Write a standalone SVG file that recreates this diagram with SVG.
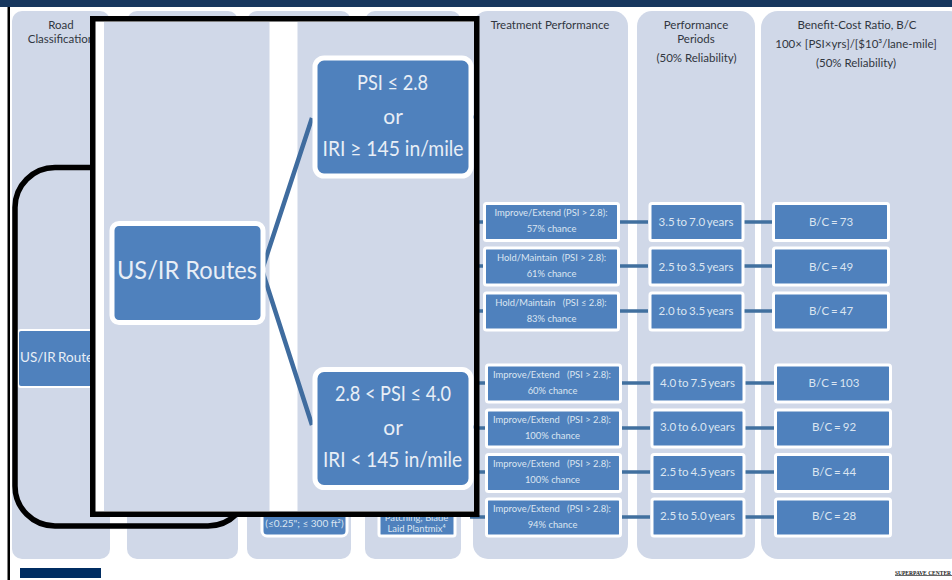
<svg xmlns="http://www.w3.org/2000/svg" width="952" height="580" viewBox="0 0 952 580">
<style>
text{font-family:Lato,"Noto Sans",sans-serif;text-anchor:middle;white-space:pre}
.col{fill:#d0d8e8}
.n{fill:#4f81bd;stroke:#fff;stroke-width:3}
.N{fill:#4f81bd;stroke:#fff;stroke-width:5}
.c{stroke:#41709f;stroke-width:3.5;fill:none}
.h{font-size:11.5px;fill:#303640}
.s{font-size:9.4px;fill:#dbe5f1}
.m{font-size:11.5px;fill:#dbe5f1;word-spacing:-1px}
.b{font-size:21px;fill:#e8eef6}
</style>
<rect width="952" height="580" fill="#fff"/>
<rect width="952" height="7" fill="#17375e"/>
<rect x="7.500" y="7" width="2.500" height="573" fill="#000"/>
<g id="columns">
<rect class="col" x="12" y="11" width="98" height="548" rx="10"/>
<rect class="col" x="127" y="11" width="111" height="548" rx="10"/>
<rect class="col" x="247" y="11" width="104" height="548" rx="10"/>
<rect class="col" x="365" y="11" width="96" height="548" rx="10"/>
<rect class="col" x="473" y="11" width="155" height="548" rx="15"/>
<rect class="col" x="637" y="11" width="118" height="548" rx="15"/>
<rect class="col" x="761" y="11" width="205" height="548" rx="17"/>
</g>
<g id="headers">
<text class="h" x="61" y="29">Road</text>
<text class="h" x="61" y="43">Classification</text>
<text class="h" x="550" y="29">Treatment Performance</text>
<text class="h" x="696" y="29">Performance</text>
<text class="h" x="696" y="43">Periods</text>
<text class="h" x="696.500" y="62">(50% Reliability)</text>
<text class="h" x="857" y="29">Benefit-Cost Ratio, B/C</text>
<text class="h" x="856" y="48">100× [PSI×yrs]/[$10³/lane-mile]</text>
<text class="h" x="856" y="67">(50% Reliability)</text>
</g>
<g id="node-small-route">
<rect x="18" y="330" width="90" height="57" rx="3" fill="#4f81bd" stroke="#fff" stroke-width="2"/>
<text x="20" y="362" style="font-size:13.500px;fill:#e8eef6;text-anchor:start;word-spacing:-1px">US/IR Routes</text>
</g>
<rect id="callout-round" x="15" y="167.500" width="233" height="358.500" rx="40" fill="none" stroke="#000" stroke-width="5.500"/>
<g id="connectors">
<path class="c" d="M473 222H484M473 266H484M473 311H484M479 383H486M479 428H486M479 472H486M470 517H486"/>
<path class="c" d="M619 222H648M619 266H648M619 311H648M621 383H650M621 428H650M621 472H650M621 517H650"/>
<path class="c" d="M744 222H772M744 266H772M744 311H772M745 383H774M745 428H774M745 472H774M745 517H774"/>
</g>
<g id="node-slurry"><rect class="n" x="262" y="500" width="85" height="36" rx="5"/><text x="304.500" y="527" style="font-size:10px;fill:#dbe5f1">(≤0.25"; ≤ 300 ft²)</text></g>
<g id="node-patch"><rect class="n" x="379" y="500" width="76" height="36" rx="2"/><text class="s" x="416.500" y="521">Patching; Blade</text><text class="s" x="416.500" y="532">Laid Plantmix⁴</text></g>
<g id="t1"><rect class="n" x="484.500" y="203.500" width="134" height="37" rx="2"/><text class="s" x="551" y="216">Improve/Extend (PSI &gt; 2.8):</text><text class="s" x="551.500" y="232">57% chance</text></g>
<g id="t2"><rect class="n" x="484.500" y="248" width="134" height="37" rx="2"/><text class="s" x="551.500" y="261">Hold/Maintain  (PSI &gt; 2.8):</text><text class="s" x="551.500" y="277">61% chance</text></g>
<g id="t3"><rect class="n" x="484.500" y="293" width="134" height="37" rx="2"/><text class="s" x="551" y="306">Hold/Maintain   (PSI ≤ 2.8):</text><text class="s" x="551.500" y="322">83% chance</text></g>
<g id="t4"><rect class="n" x="486.500" y="365" width="134" height="37" rx="2"/><text class="s" x="552" y="378">Improve/Extend   (PSI &gt; 2.8):</text><text class="s" x="552.500" y="394">60% chance</text></g>
<g id="t5"><rect class="n" x="486.500" y="410" width="134" height="37" rx="2"/><text class="s" x="552" y="422.500">Improve/Extend   (PSI &gt; 2.8):</text><text class="s" x="552.500" y="438.500">100% chance</text></g>
<g id="t6"><rect class="n" x="486.500" y="454.500" width="134" height="37" rx="2"/><text class="s" x="552" y="467">Improve/Extend   (PSI &gt; 2.8):</text><text class="s" x="552.500" y="483">100% chance</text></g>
<g id="t7"><rect class="n" x="486.500" y="499" width="134" height="37" rx="2"/><text class="s" x="552" y="512">Improve/Extend   (PSI &gt; 2.8):</text><text class="s" x="552.500" y="528">94% chance</text></g>
<g id="p1"><rect class="n" x="650" y="203.500" width="93" height="37" rx="2"/><text class="m" x="696" y="226">3.5 to 7.0 years</text></g>
<g id="p2"><rect class="n" x="650" y="248" width="93" height="37" rx="2"/><text class="m" x="696" y="270.500">2.5 to 3.5 years</text></g>
<g id="p3"><rect class="n" x="650" y="293" width="93" height="37" rx="2"/><text class="m" x="696" y="315">2.0 to 3.5 years</text></g>
<g id="p4"><rect class="n" x="652" y="365" width="92" height="37" rx="2"/><text class="m" x="697.500" y="386.500">4.0 to 7.5 years</text></g>
<g id="p5"><rect class="n" x="652" y="410" width="92" height="37" rx="2"/><text class="m" x="697.500" y="431">3.0 to 6.0 years</text></g>
<g id="p6"><rect class="n" x="652" y="454.500" width="92" height="37" rx="2"/><text class="m" x="697.500" y="476">2.5 to 4.5 years</text></g>
<g id="p7"><rect class="n" x="652" y="499" width="92" height="37" rx="2"/><text class="m" x="697.500" y="520">2.5 to 5.0 years</text></g>
<g id="b1"><rect class="n" x="773.500" y="203.500" width="115" height="37" rx="2"/><text class="m" x="831" y="226">B/C = 73</text></g>
<g id="b2"><rect class="n" x="773.500" y="248" width="115" height="37" rx="2"/><text class="m" x="831" y="270.500">B/C = 49</text></g>
<g id="b3"><rect class="n" x="773.500" y="293" width="115" height="37" rx="2"/><text class="m" x="831" y="315">B/C = 47</text></g>
<g id="b4"><rect class="n" x="775.500" y="365" width="115" height="37" rx="2"/><text class="m" x="834" y="386.500">B/C = 103</text></g>
<g id="b5"><rect class="n" x="775.500" y="410" width="115" height="37" rx="2"/><text class="m" x="834" y="431">B/C = 92</text></g>
<g id="b6"><rect class="n" x="775.500" y="454.500" width="115" height="37" rx="2"/><text class="m" x="834" y="476">B/C = 44</text></g>
<g id="b7"><rect class="n" x="775.500" y="499" width="115" height="37" rx="2"/><text class="m" x="834" y="520">B/C = 28</text></g>
<g id="footer">
<text x="895" y="574.500" textLength="56" lengthAdjust="spacingAndGlyphs" style="font-family:'Liberation Serif',serif;font-size:6.500px;font-weight:bold;fill:#222;text-anchor:start">SUPERPAVE CENTER</text>
<rect x="20" y="568" width="81" height="10" fill="#002d62"/>
<rect x="895" y="575" width="57" height="1" fill="#666"/>
</g>
<g id="inset">
<rect x="92.750" y="18.750" width="384" height="495.500" fill="#fff" stroke="#000" stroke-width="5.500"/>
<rect class="col" x="104" y="22" width="165.500" height="489"/>
<rect class="col" x="297.500" y="22" width="176.500" height="489"/>
<g id="inset-connectors">
<path d="M262 270L312 118M262 270L312 425" stroke="#3f6c9f" stroke-width="4.500" fill="none"/>
<path d="M471 117H474M471 427H474" stroke="#4f81bd" stroke-width="3" fill="none"/>
</g>
<g id="node-route"><rect class="N" x="112" y="223.500" width="151" height="99" rx="7"/><text x="187" y="279" textLength="140" lengthAdjust="spacingAndGlyphs" style="font-size:25.500px;fill:#e8eef6">US/IR Routes</text></g>
<g id="node-psi-low"><rect class="N" x="315" y="58" width="156" height="118" rx="9"/><text class="b" x="392.500" y="90" textLength="71" lengthAdjust="spacingAndGlyphs">PSI ≤ 2.8</text><text class="b" x="393" y="124">or</text><text class="b" x="393" y="156" textLength="141" lengthAdjust="spacingAndGlyphs">IRI ≥ 145 in/mile</text></g>
<g id="node-psi-high"><rect class="N" x="315" y="369.500" width="156" height="118" rx="9"/><text class="b" x="393" y="401" textLength="116" lengthAdjust="spacingAndGlyphs">2.8 &lt; PSI ≤ 4.0</text><text class="b" x="393" y="435">or</text><text class="b" x="392.500" y="467" textLength="139" lengthAdjust="spacingAndGlyphs">IRI &lt; 145 in/mile</text></g>
</g>
</svg>
